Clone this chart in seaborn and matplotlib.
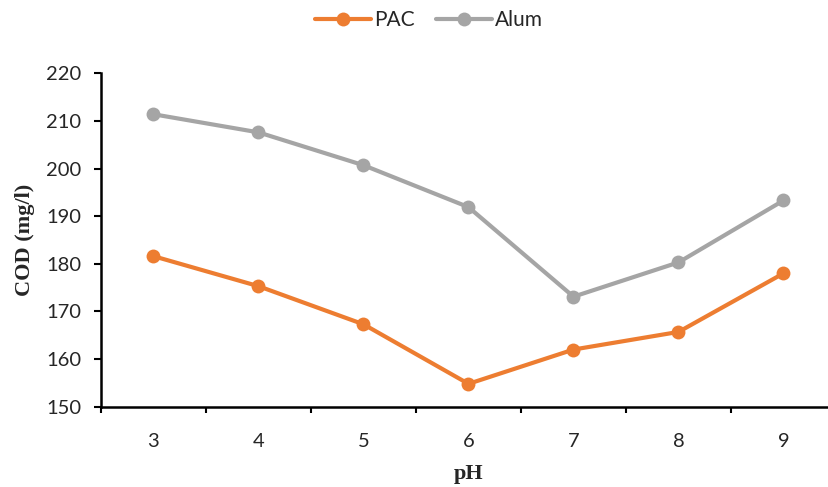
import numpy as np
import pandas as pd
import matplotlib
matplotlib.use("Agg")
import matplotlib.pyplot as plt
from matplotlib.ticker import FixedLocator, NullFormatter
import seaborn as sns

# COD after coagulation at different pH values
ph = [3, 4, 5, 6, 7, 8, 9]
pac = [181.6, 175.3, 167.3, 154.8, 162.0, 165.7, 178.0]
alum = [211.4, 207.6, 200.7, 191.9, 173.1, 180.3, 193.3]
series_names = ["PAC", "Alum"]
series_colors = ["#ED7D31", "#A5A5A5"]
y_ticks = [150, 160, 170, 180, 190, 200, 210, 220]

df = pd.DataFrame({
    "pH": ph * 2,
    "COD": pac + alum,
    "Coagulant": ["PAC"] * len(ph) + ["Alum"] * len(ph),
})

sns.set_style("white")
plt.rcParams["font.family"] = ["Lato", "DejaVu Sans"]

W, H = 829, 487
fig = plt.figure(figsize=(W / 100, H / 100), dpi=100)
left, right = 101, 836
top, bottom = 73.3, 406.7
ax = fig.add_axes([left / W, (H - bottom) / H, (right - left) / W, (bottom - top) / H])

sns.lineplot(
    data=df, x="pH", y="COD", hue="Coagulant",
    hue_order=series_names, palette=series_colors,
    marker="o", markersize=10, markeredgewidth=0,
    linewidth=3, ax=ax, legend=True,
)

ax.set_xlim(ph[0] - 0.5, ph[-1] + 0.5)
ax.set_ylim(y_ticks[0], y_ticks[-1])
ax.set_yticks(y_ticks)
ax.set_xticks(ph)
ax.xaxis.set_minor_locator(FixedLocator([p - 0.5 for p in ph]))
ax.xaxis.set_minor_formatter(NullFormatter())

for side in ["top", "right"]:
    ax.spines[side].set_visible(False)
for side in ["left", "bottom"]:
    ax.spines[side].set_linewidth(1.8)
    ax.spines[side].set_color("black")

ax.tick_params(axis="y", which="major", direction="out", length=5, width=1.5,
               labelsize=14.5, pad=9, left=True, color="black")
ax.tick_params(axis="x", which="major", length=0, labelsize=14.5, pad=19)
ax.tick_params(axis="x", which="minor", direction="out", length=4, width=1.5,
               bottom=True, color="black")

ax.set_xlabel("pH", family=["Liberation Serif", "DejaVu Serif"], fontweight="bold",
              fontsize=16, labelpad=10)
ax.set_ylabel("COD (mg/l)", family=["Liberation Serif", "DejaVu Serif"], fontweight="bold",
              fontsize=16, labelpad=8)

handles, labels = ax.get_legend_handles_labels()
ax.get_legend().remove()
fig.legend(handles, labels, loc="center", bbox_to_anchor=(429 / W, 1 - 20 / H),
           ncol=2, frameon=False, fontsize=15, handlelength=2.7,
           handletextpad=0.15, columnspacing=1.0)

fig.savefig("out.png", dpi=100)
